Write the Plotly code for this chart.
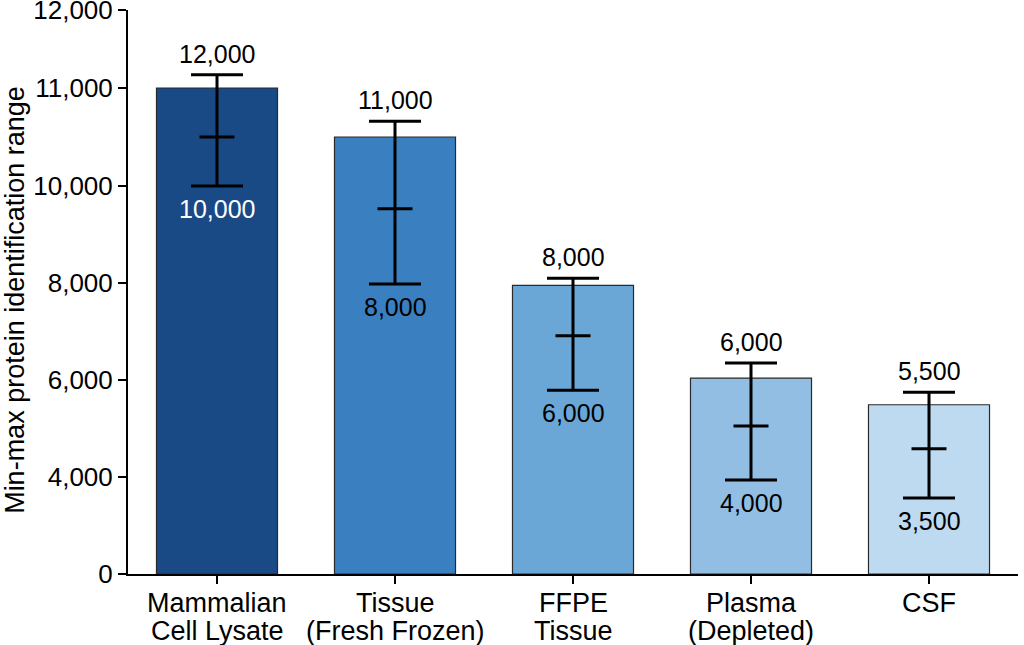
import numpy as np
import plotly.graph_objects as go

# ---- data ----
categories = ["Mammalian<br>Cell Lysate", "Tissue<br>(Fresh Frozen)", "FFPE<br>Tissue",
              "Plasma<br>(Depleted)", "CSF"]
bar_values = [11000, 10500, 7950, 6040, 5490]
range_max = [11170, 10660, 8100, 6350, 5750]
range_mid = [10500, 9530, 6910, 5050, 4580]
range_min = [10000, 7980, 5790, 3880, 3130]
max_labels = ["12,000", "11,000", "8,000", "6,000", "5,500"]
min_labels = ["10,000", "8,000", "6,000", "4,000", "3,500"]
bar_colors = ["#1a4a86", "#3a7fbf", "#6aa7d7", "#91bee2", "#bedaf1"]
min_label_colors = ["white", "black", "black", "black", "black"]

# ---- the chart's non-uniform (piecewise linear) value axis ----
tick_values = [0, 4000, 6000, 8000, 10000, 11000, 12000]
tick_text = ["0", "4,000", "6,000", "8,000", "10,000", "11,000", "12,000"]
tick_axis = [0, 97, 194, 291, 388, 486, 564]


def to_axis(v):
    return np.interp(v, tick_values, tick_axis)


x = list(range(len(categories)))
bar_y = to_axis(bar_values)
hi_y = to_axis(range_max)
lo_y = to_axis(range_min)
mid_y = to_axis(range_mid)

FONT = "Liberation Sans, Arial, sans-serif"

fig = go.Figure()
fig.add_trace(go.Bar(
    x=x, y=bar_y, width=0.68,
    marker=dict(color=bar_colors, line=dict(color="#2a2a2a", width=1.2)),
    error_y=dict(type="data", symmetric=False, array=hi_y - bar_y,
                 arrayminus=bar_y - lo_y, color="black", thickness=3, width=26),
    hoverinfo="skip",
))
fig.add_trace(go.Scatter(
    x=x, y=mid_y, mode="markers",
    marker=dict(symbol="line-ew", size=25, line=dict(color="black", width=3)),
    hoverinfo="skip",
))

for i in x:
    fig.add_annotation(x=i, y=hi_y[i], text=max_labels[i], showarrow=False,
                       yanchor="middle", yshift=21,
                       font=dict(family=FONT, size=25, color="black"))
    fig.add_annotation(x=i, y=lo_y[i], text=min_labels[i], showarrow=False,
                       yanchor="middle", yshift=-23,
                       font=dict(family=FONT, size=25, color=min_label_colors[i]))
    # category labels (two tight lines)
    for j, line in enumerate(categories[i].split("<br>")):
        fig.add_annotation(x=i, xref="x", y=0, yref="paper", text=line,
                           showarrow=False, yanchor="middle", yshift=-29 - 28 * j,
                           font=dict(family=FONT, size=27, color="black"))

# y-axis title as a rotated annotation
fig.add_annotation(text="Min-max protein identification range", textangle=-90,
                   xref="paper", yref="paper", x=-0.127, y=0.486,
                   xanchor="center", yanchor="middle", showarrow=False,
                   font=dict(family=FONT, size=27, color="black"))

fig.update_layout(
    width=1024, height=645,
    margin=dict(l=128, r=6, t=10, b=71),
    paper_bgcolor="white", plot_bgcolor="white",
    showlegend=False,
    font=dict(family=FONT, size=24, color="black"),
)
fig.update_xaxes(
    range=[-0.5, 4.5], tickvals=x, showticklabels=False,
    showline=True, linecolor="black", linewidth=2,
    ticks="outside", ticklen=8, tickwidth=2, tickcolor="black",
    showgrid=False, zeroline=False, automargin=False,
)
fig.update_yaxes(
    range=[0, 564], tickvals=tick_axis, ticktext=tick_text,
    showline=True, linecolor="black", linewidth=2,
    ticks="outside", ticklen=8, tickwidth=2, tickcolor="black",
    ticklabeloverflow="allow", automargin=False,
    tickfont=dict(family=FONT, size=26), showgrid=False, zeroline=False,
)

fig.write_html("out.html")
